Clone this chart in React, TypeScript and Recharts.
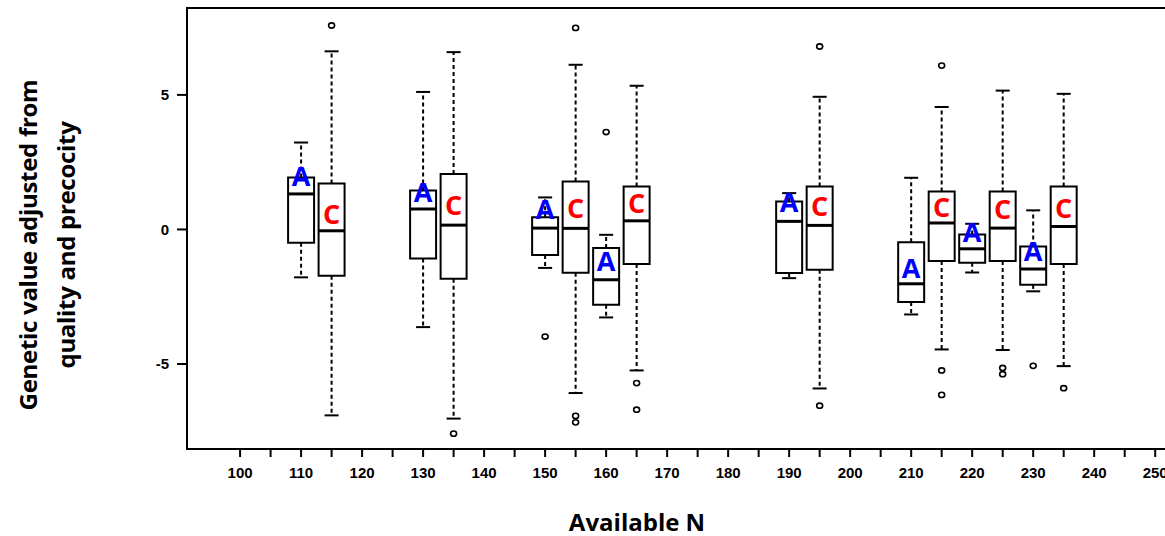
import { ScatterChart, Scatter, XAxis, YAxis, ReferenceArea, ReferenceLine } from 'recharts';

// box positions on the "Available N" axis and their group letter
const positions = [110, 115, 130, 135, 150, 155, 160, 165, 190, 195, 210, 215, 220, 225, 230, 235];
const groups = ['A', 'C', 'A', 'C', 'A', 'C', 'A', 'C', 'A', 'C', 'A', 'C', 'A', 'C', 'A', 'C'];

// five-number summaries
const whiskerHigh = [3.23, 6.62, 5.11, 6.59, 1.19, 6.12, -0.2, 5.34, 1.35, 4.93, 1.92, 4.55, 0.21, 5.16, 0.71, 5.04];
const upperQuartile = [1.93, 1.71, 1.45, 2.06, 0.45, 1.78, -0.69, 1.6, 1.04, 1.6, -0.48, 1.41, -0.19, 1.41, -0.63, 1.6];
const medians = [1.32, -0.05, 0.76, 0.16, 0.05, 0.04, -1.87, 0.32, 0.3, 0.15, -2.02, 0.24, -0.72, 0.05, -1.47, 0.11];
const lowerQuartile = [-0.49, -1.72, -1.08, -1.83, -0.95, -1.61, -2.8, -1.28, -1.62, -1.5, -2.7, -1.17, -1.24, -1.17, -2.06, -1.28];
const whiskerLow = [-1.78, -6.91, -3.63, -7.03, -1.43, -6.08, -3.27, -5.24, -1.81, -5.91, -3.16, -4.46, -1.6, -4.48, -2.3, -5.08];

// where the letter of each box sits
const letterY = [1.96, 0.55, 1.36, 0.88, 0.75, 0.77, -1.2, 0.96, 0.99, 0.84, -1.46, 0.81, -0.12, 0.73, -0.83, 0.77];

// outliers as [position, value]
const outliers = [
  [115, 7.58], [135, -7.59], [150, -3.98],
  [155, 7.49], [155, -6.93], [155, -7.17],
  [160, 3.62], [165, -5.71], [165, -6.7],
  [195, 6.8], [195, -6.55],
  [215, 6.09], [215, -5.24], [215, -6.15],
  [225, -5.15], [225, -5.38], [230, -5.07], [235, -5.9],
];

const xTicks = [100, 105, 110, 115, 120, 125, 130, 135, 140, 145, 150, 155, 160, 165, 170, 175, 180, 185, 190, 195, 200, 205, 210, 215, 220, 225, 230, 235, 240, 245, 250];
const yTicks = [-5, 0, 5];
const xDomain = [91.3, 253.9];
const yDomain = [-8.16, 8.23];

const HALF_BOX = 2.13;
const HALF_CAP = 1.15;
const LETTER_COLORS: Record<string, string> = { A: '#0000ff', C: '#ff0000' };

const outlierData = outliers.map(([x, y]) => ({ x, y }));
const letterData = positions.map((x, i) => ({ x, y: letterY[i], letter: groups[i] }));

const tickFont = { fontSize: 15, fontWeight: 'bold', fill: '#000', fontFamily: 'Liberation Sans, Arial, sans-serif' };
const titleFont = { fontSize: 24, fontWeight: 'bold', fill: '#000', fontFamily: 'Open Sans, sans-serif' };

function LetterShape(props: any) {
  const { cx, cy, payload } = props;
  return (
    <text x={cx} y={cy} dy={9.5} textAnchor="middle" fontSize={27} fontWeight="bold"
      fontFamily="Open Sans, sans-serif" fill={LETTER_COLORS[payload.letter]}>
      {payload.letter}
    </text>
  );
}

function OutlierShape(props: any) {
  const { cx, cy } = props;
  return <ellipse cx={cx} cy={cy} rx={3} ry={2.6} fill="#fff" stroke="#000" strokeWidth={1.6} />;
}

function YTitle() {
  return (
    <g transform="translate(27,245) rotate(-90)">
      <text x={0} y={0} textAnchor="middle" dominantBaseline="central" letterSpacing={-0.3} {...titleFont}>Genetic value adjusted from</text>
      <text x={0} y={38} textAnchor="middle" dominantBaseline="central" letterSpacing={-0.3} {...titleFont}>quality and precocity</text>
    </g>
  );
}

function XTitle() {
  return (
    <text x={637} y={521} textAnchor="middle" dominantBaseline="central" {...titleFont}>Available N</text>
  );
}

export default function App() {
  return (
    <div style={{ position: 'fixed', left: 0, top: 0, width: 1165, height: 536, overflow: 'hidden', background: '#fff' }}>
      <ScatterChart width={1185} height={536} margin={{ top: 8, right: 6, bottom: 0, left: 0 }}>
        <XAxis dataKey="x" type="number" domain={xDomain} ticks={xTicks} interval={0} allowDataOverflow
          height={87} tickSize={8} tickMargin={10} axisLine={false}
          tickLine={{ stroke: '#000', strokeWidth: 2 }} tick={tickFont}
          tickFormatter={(v: number) => (v % 10 === 0 ? String(v) : '')} label={<XTitle />} />
        <YAxis dataKey="y" type="number" domain={yDomain} ticks={yTicks} allowDataOverflow
          width={187} tickSize={10} tickMargin={8} axisLine={false}
          tickLine={{ stroke: '#000', strokeWidth: 2 }} tick={tickFont} label={<YTitle />} />

        {positions.map((x, i) => (
          <ReferenceLine key={`wu${i}`} segment={[{ x, y: upperQuartile[i] }, { x, y: whiskerHigh[i] }]}
            stroke="#000" strokeWidth={2} strokeDasharray="4 3" />
        ))}
        {positions.map((x, i) => (
          <ReferenceLine key={`wl${i}`} segment={[{ x, y: lowerQuartile[i] }, { x, y: whiskerLow[i] }]}
            stroke="#000" strokeWidth={2} strokeDasharray="4 3" />
        ))}
        {positions.map((x, i) => (
          <ReferenceLine key={`ch${i}`} segment={[{ x: x - HALF_CAP, y: whiskerHigh[i] }, { x: x + HALF_CAP, y: whiskerHigh[i] }]}
            stroke="#000" strokeWidth={2} />
        ))}
        {positions.map((x, i) => (
          <ReferenceLine key={`cl${i}`} segment={[{ x: x - HALF_CAP, y: whiskerLow[i] }, { x: x + HALF_CAP, y: whiskerLow[i] }]}
            stroke="#000" strokeWidth={2} />
        ))}
        {positions.map((x, i) => (
          <ReferenceArea key={`b${i}`} x1={x - HALF_BOX} x2={x + HALF_BOX} y1={lowerQuartile[i]} y2={upperQuartile[i]}
            fill="#fff" fillOpacity={1} stroke="#000" strokeWidth={2} />
        ))}
        {positions.map((x, i) => (
          <ReferenceLine key={`m${i}`} segment={[{ x: x - HALF_BOX, y: medians[i] }, { x: x + HALF_BOX, y: medians[i] }]}
            stroke="#000" strokeWidth={3} />
        ))}
        <ReferenceArea x1={xDomain[0]} x2={xDomain[1]} y1={yDomain[0]} y2={yDomain[1]}
          fill="none" stroke="#000" strokeWidth={2} />

        <Scatter data={outlierData} shape={<OutlierShape />} isAnimationActive={false} />
        <Scatter data={letterData} shape={<LetterShape />} isAnimationActive={false} />
      </ScatterChart>
    </div>
  );
}
